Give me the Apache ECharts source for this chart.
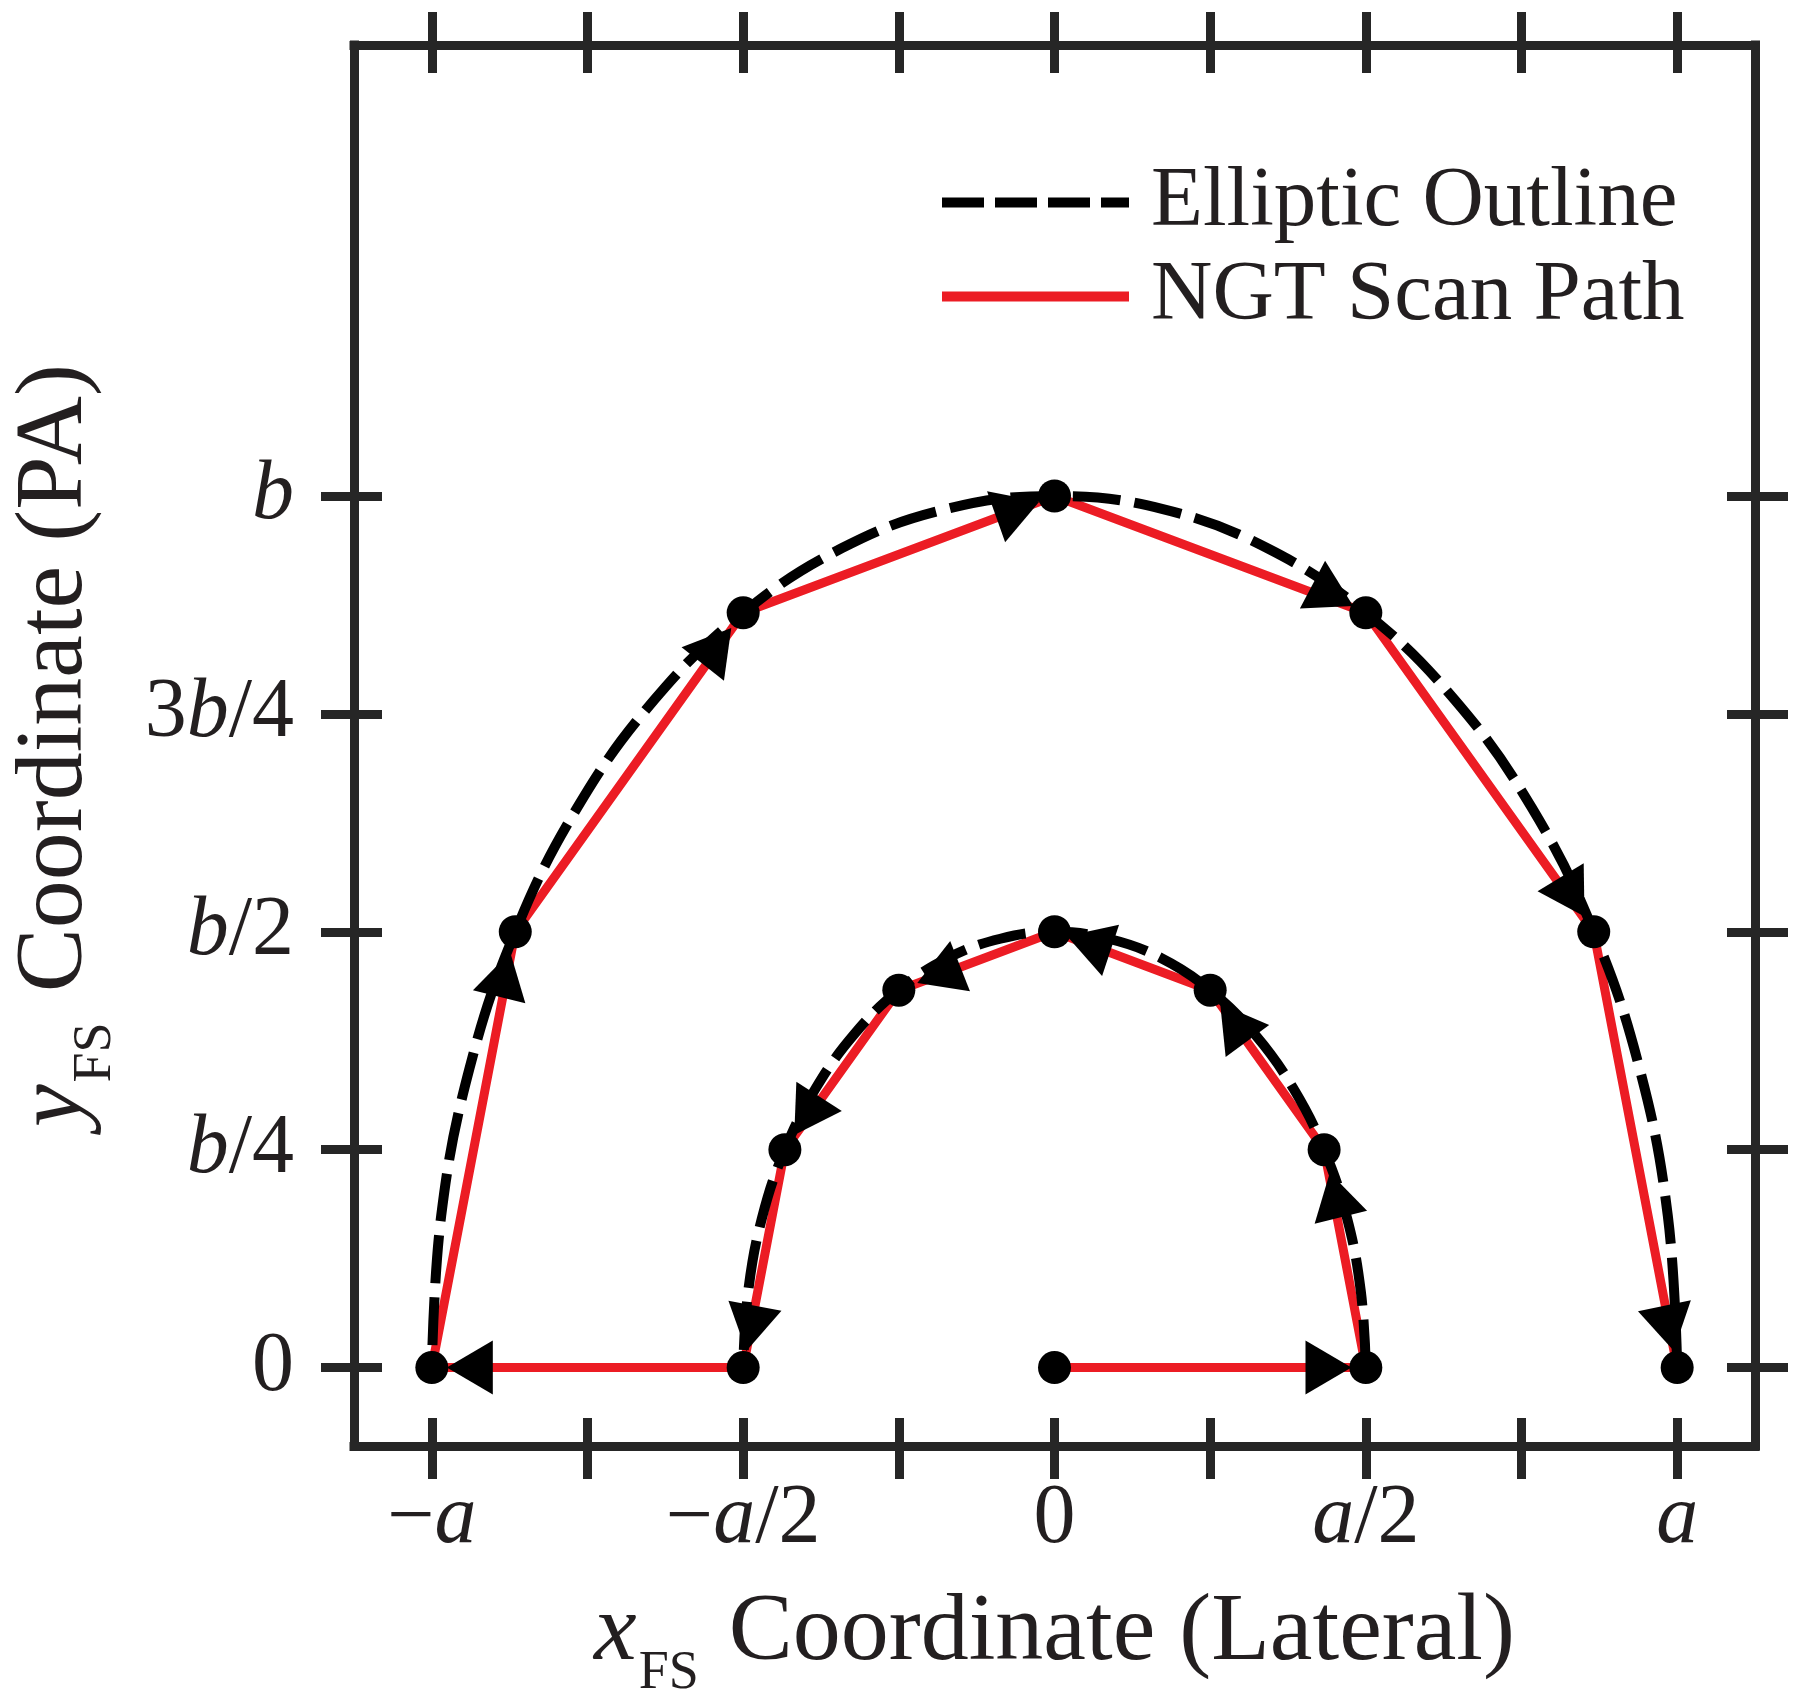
<!DOCTYPE html>
<html>
<head>
<meta charset="utf-8">
<title>NGT scan path</title>
<script src="https://cdn.jsdelivr.net/npm/echarts@6/dist/echarts.min.js"></script>
<style>
  html, body { margin: 0; padding: 0; background: #fff; }
  #chart { width: 1800px; height: 1692px; }
</style>
</head>
<body>
<div id="chart"></div>
<script>
// x is in units of a, y in units of b
const xTickValues = [-1, -0.75, -0.5, -0.25, 0, 0.25, 0.5, 0.75, 1];
const xLabelValues = [-1, -0.5, 0, 0.5, 1];
const xLabelTexts = ['{n|−}{i|a}', '{n|−}{i|a}{n|/2}', '{n|0}', '{i|a}{n|/2}', '{i|a}'];
const yTickValues = [0, 0.25, 0.5, 0.75, 1];
const yLabelTexts = ['{n|0}', '{i|b}{n|/4}', '{i|b}{n|/2}', '{n|3}{i|b}{n|/4}', '{i|b}'];

// elliptic outlines (every 10 deg)
const outerX = [1, 0.985, 0.94, 0.866, 0.766, 0.643, 0.5, 0.342, 0.174, 0,
  -0.174, -0.342, -0.5, -0.643, -0.766, -0.866, -0.94, -0.985, -1];
const outerY = [0, 0.174, 0.342, 0.5, 0.643, 0.766, 0.866, 0.94, 0.985, 1,
  0.985, 0.94, 0.866, 0.766, 0.643, 0.5, 0.342, 0.174, 0];
const innerX = [0.5, 0.492, 0.47, 0.433, 0.383, 0.321, 0.25, 0.171, 0.087, 0,
  -0.087, -0.171, -0.25, -0.321, -0.383, -0.433, -0.47, -0.492, -0.5];
const innerY = [0, 0.087, 0.171, 0.25, 0.321, 0.383, 0.433, 0.47, 0.492, 0.5,
  0.492, 0.47, 0.433, 0.383, 0.321, 0.25, 0.171, 0.087, 0];

// scan path vertices, in visiting order
const pathX = [0, 0.5, 0.433, 0.25, 0, -0.25, -0.433, -0.5, -1, -0.866, -0.5, 0, 0.5, 0.866, 1];
const pathY = [0, 0, 0.25, 0.433, 0.5, 0.433, 0.25, 0, 0, 0.5, 0.866, 1, 0.866, 0.5, 0];

// arrow heads: arrow i sits just before path vertex i+1
const arrowX = [0.44, 0.451, 0.288, 0.055, -0.186, -0.398, -0.488, -0.939, -0.883, -0.542, -0.059, 0.447, 0.832, 0.987];
const arrowY = [0, 0.198, 0.396, 0.487, 0.451, 0.289, 0.045, 0, 0.451, 0.828, 0.985, 0.886, 0.54, 0.045];

const zip = (xs, ys) => xs.map((x, i) => [x, ys[i]]);

const FONT = 'Liberation Serif';
const INK = '#231f20';
const FRAME = '#262626';
const RED = '#ec1c24';

const tickRich = {
  n: { fontFamily: FONT, fontSize: 84, color: INK },
  i: { fontFamily: FONT, fontSize: 84, color: INK, fontStyle: 'italic' }
};
const nameRich = {
  i: { fontFamily: FONT, fontSize: 96, color: INK, fontStyle: 'italic', lineHeight: 96 },
  sub: { fontFamily: FONT, fontSize: 54, color: INK, lineHeight: 54, padding: [80, 6, 0, 2] },
  n: { fontFamily: FONT, fontSize: 96, color: INK, lineHeight: 96 }
};

function xAxisPart(position, inside, withLine, withLabel) {
  return {
    type: 'value', min: -1.125, max: 1.125, position: position,
    axisLine: { show: withLine, onZero: false, lineStyle: { color: FRAME, width: 9, cap: 'square' } },
    axisTick: { show: true, inside: inside, length: inside ? 28 : 33, customValues: xTickValues,
      lineStyle: { color: FRAME, width: 9 } },
    axisLabel: withLabel ? {
      show: true, customValues: xLabelValues, margin: 32,
      formatter: v => xLabelTexts[xLabelValues.indexOf(v)], rich: tickRich
    } : { show: false },
    splitLine: { show: false }
  };
}

function yAxisPart(position, inside, withLine, withLabel) {
  return {
    type: 'value', min: -0.09, max: 1.5175, position: position,
    axisLine: { show: withLine, onZero: false, lineStyle: { color: FRAME, width: 9, cap: 'square' } },
    axisTick: { show: true, inside: inside, length: inside ? 28 : 33, customValues: yTickValues,
      lineStyle: { color: FRAME, width: 9 } },
    axisLabel: withLabel ? {
      show: true, customValues: yTickValues, margin: 60,
      formatter: v => yLabelTexts[yTickValues.indexOf(v)], rich: tickRich
    } : { show: false },
    splitLine: { show: false }
  };
}

const xMain = xAxisPart('bottom', true, true, true);
xMain.name = '{i|x}{sub|FS}{n| Coordinate (Lateral)}';
xMain.nameLocation = 'middle';
xMain.nameGap = 102;
xMain.nameTextStyle = { rich: nameRich };

const yMain = yAxisPart('left', true, true, true);
yMain.name = '{i|y}{sub|FS}{n| Coordinate (PA)}';
yMain.nameLocation = 'middle';
yMain.nameGap = 250;
yMain.nameTextStyle = { rich: nameRich };

const option = {
  animation: false,
  backgroundColor: '#fff',
  grid: { left: 354, right: 45, top: 45, bottom: 246, containLabel: false, outerBoundsMode: 'none' },
  legend: {
    orient: 'vertical', left: 932, top: 155,
    itemWidth: 187, itemHeight: 12, itemGap: 9,
    lineStyle: { width: 10 },
    itemStyle: { color: 'rgba(0,0,0,0)', borderWidth: 0 },
    data: [
      { name: 'Elliptic Outline', lineStyle: { width: 10, type: [42, 11] } },
      { name: 'NGT Scan Path', lineStyle: { width: 10 } }
    ],
    textStyle: { fontFamily: FONT, fontSize: 85, color: INK, padding: [0, 0, 0, 17] }
  },
  xAxis: [
    xMain,
    xAxisPart('bottom', false, false, false),
    xAxisPart('top', true, true, false),
    xAxisPart('top', false, false, false)
  ],
  yAxis: [
    yMain,
    yAxisPart('left', false, false, false),
    yAxisPart('right', true, true, false),
    yAxisPart('right', false, false, false)
  ],
  series: [
    {
      name: 'NGT Scan Path', type: 'line', data: zip(pathX, pathY),
      symbol: 'none', z: 2,
      lineStyle: { color: RED, width: 9 }, itemStyle: { color: RED }
    },
    {
      name: 'Elliptic Outline', type: 'line', data: zip(outerX, outerY),
      smooth: 0.4, symbol: 'none', z: 3,
      lineStyle: { color: '#000', width: 10, type: [48, 14] }, itemStyle: { color: '#000' }
    },
    {
      name: 'Elliptic Outline', type: 'line', data: zip(innerX, innerY),
      smooth: 0.4, symbol: 'none', z: 3,
      lineStyle: { color: '#000', width: 10, type: [48, 14] }, itemStyle: { color: '#000' }
    },
    {
      id: 'vertices', name: 'vertices', type: 'scatter', data: zip(pathX, pathY),
      symbol: 'circle', symbolSize: 33, z: 5,
      itemStyle: { color: '#000', opacity: 1 }
    },
    {
      id: 'arrows', name: 'arrows', type: 'scatter', data: zip(arrowX, arrowY),
      symbol: 'triangle', symbolSize: [54, 46], z: 4,
      itemStyle: { color: '#000', opacity: 1 }
    }
  ]
};

const chart = echarts.init(document.getElementById('chart'));
chart.setOption(option);

// point each arrow head at the vertex it leads to
const arrowData = arrowX.map((x, i) => {
  const from = chart.convertToPixel({ seriesId: 'arrows' }, [x, arrowY[i]]);
  const to = chart.convertToPixel({ seriesId: 'arrows' }, [pathX[i + 1], pathY[i + 1]]);
  const deg = Math.atan2(from[1] - to[1], to[0] - from[0]) * 180 / Math.PI;
  return { value: [x, arrowY[i]], symbolRotate: deg - 90 };
});
chart.setOption({ series: [{ id: 'arrows', data: arrowData }] });
</script>
</body>
</html>
